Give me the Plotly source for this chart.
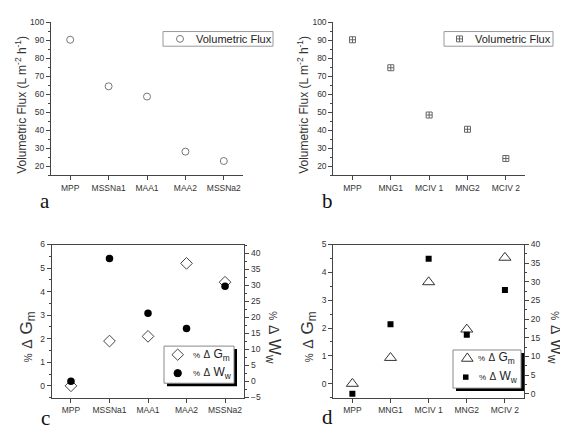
import plotly.graph_objects as go

# page body has an 8px margin, so the figure is drawn 8px in from the top-left
OFF = 8
W, H = 568 - OFF, 440 - OFF

# ---------------- data ----------------
cats_a = ["MPP", "MSSNa1", "MAA1", "MAA2", "MSSNa2"]
flux_a = [90.2, 64.4, 58.7, 28.2, 23.0]

cats_b = ["MPP", "MNG1", "MCIV 1", "MNG2", "MCIV 2"]
flux_b = [90.2, 74.7, 48.5, 40.6, 24.4]

dG_c = [0.0, 1.9, 2.1, 5.2, 4.4]
dW_c = [0.0, 38.3, 21.2, 16.5, 29.7]

dG_d = [0.0, 0.93, 3.65, 1.95, 4.53]
dW_d = [0.0, 18.6, 36.2, 15.8, 27.8]

flux_ticks = [20, 30, 40, 50, 60, 70, 80, 90, 100]
dG_ticks_c = [0, 1, 2, 3, 4, 5, 6]
dW_ticks_c = [-5, 0, 5, 10, 15, 20, 25, 30, 35, 40]
dG_ticks_d = [0, 1, 2, 3, 4, 5]
dW_ticks_d = [0, 5, 10, 15, 20, 25, 30, 35, 40]

# ---------------- helpers (pixel of the screenshot -> paper fraction) ----------------
def fx(px):
    return (px - OFF) / W

def fy(py):
    return 1 - (py - OFF) / H

FONT = "Liberation Sans, Arial, sans-serif"
SERIF = "Liberation Serif, Times New Roman, serif"
AX = "#444444"
TXT = "#333333"
TICKF = dict(family=FONT, size=8.5, color=TXT)

fig = go.Figure()

# panel a
fig.add_trace(go.Scatter(x=cats_a, y=flux_a, mode="markers", name="Volumetric Flux",
                         marker=dict(symbol="circle-open", size=7, color="#777777", line=dict(width=1)),
                         xaxis="x", yaxis="y"))
# panel b
fig.add_trace(go.Scatter(x=cats_b, y=flux_b, mode="markers", name="Volumetric Flux",
                         marker=dict(symbol="square-cross-open", size=6, color="#666666", line=dict(width=1)),
                         xaxis="x2", yaxis="y2"))
# panel c
fig.add_trace(go.Scatter(x=cats_a, y=dG_c, mode="markers", name="% Δ Gm",
                         marker=dict(symbol="diamond-open", size=9, color="#444444", line=dict(width=1)),
                         xaxis="x3", yaxis="y3"))
fig.add_trace(go.Scatter(x=cats_a, y=dW_c, mode="markers", name="% Δ Ww",
                         marker=dict(symbol="circle", size=7.5, color="#000000"),
                         xaxis="x3", yaxis="y5"))
# panel d
fig.add_trace(go.Scatter(x=cats_b, y=dG_d, mode="markers", name="% Δ Gm",
                         marker=dict(symbol="triangle-up-open", size=10.5, color="#333333", line=dict(width=1)),
                         xaxis="x4", yaxis="y4"))
fig.add_trace(go.Scatter(x=cats_b, y=dW_d, mode="markers", name="% Δ Ww",
                         marker=dict(symbol="square", size=6, color="#000000"),
                         xaxis="x4", yaxis="y6"))

def xaxis(dom, anchor, mirror):
    return dict(domain=dom, anchor=anchor, range=[-0.5, 4.5], type="category",
                showline=True, linecolor=AX, linewidth=1, mirror=mirror,
                ticks="outside", ticklen=4, tickcolor=AX, tickfont=TICKF,
                showgrid=False, zeroline=False, fixedrange=True)

def xminor(dom, anchor, over, side, ticks, vals, ln):
    # decorative tick-only axis (minor ticks between categories / inner top ticks)
    return dict(domain=dom, anchor=anchor, overlaying=over, side=side, type="linear",
                range=[-0.5, 4.5], tickvals=vals, ticks=ticks, ticklen=ln, tickcolor=AX,
                showticklabels=False, showline=False, showgrid=False, zeroline=False,
                fixedrange=True)

def yaxis(dom, anchor, rng, tv, dminor):
    return dict(domain=dom, anchor=anchor, range=rng, tickvals=tv,
                showline=True, linecolor=AX, linewidth=1,
                ticks="outside", ticklen=4, tickcolor=AX, tickfont=TICKF,
                minor=dict(ticks="outside", ticklen=2, tickcolor=AX, dtick=dminor, tick0=0),
                showgrid=False, zeroline=False, fixedrange=True)

xa = [fx(51), fx(243)]
xb = [fx(333.3), fx(525)]
xc = [fx(51.7), fx(244.3)]
xd = [fx(333.3), fx(524)]
ytop = [fy(174.3), fy(17.3)]
ybot = [fy(401.7), fy(245)]

mids = [0.5, 1.5, 2.5, 3.5]
tops = [0, 0.5, 1, 1.5, 2, 2.5, 3, 3.5, 4]

ya = yaxis(ytop, "x", [15, 100], flux_ticks, 5)
yb = yaxis(ytop, "x2", [15, 100], flux_ticks, 5)
yc = yaxis(ybot, "x3", [-0.5, 6], dG_ticks_c, 0.5)
yd = yaxis(ybot, "x4", [-0.5, 5], dG_ticks_d, 0.5)
yc2 = yaxis(ybot, "x3", [-5.1, 42.7], dW_ticks_c, 2.5)
yc2.update(overlaying="y3", side="right")
yd2 = yaxis(ybot, "x4", [-1.05, 40], dW_ticks_d, 2.5)
yd2.update(overlaying="y4", side="right")

fig.update_layout(
    width=W, height=H, margin=dict(l=0, r=0, t=0, b=0),
    paper_bgcolor="white", plot_bgcolor="rgba(0,0,0,0)",
    font=dict(family=FONT, size=10, color=TXT),
    showlegend=False,
    xaxis=xaxis(xa, "y", False), yaxis=ya,
    xaxis2=xaxis(xb, "y2", False), yaxis2=yb,
    xaxis3=xaxis(xc, "y3", True), yaxis3=yc,
    xaxis4=xaxis(xd, "y4", True), yaxis4=yd,
    yaxis5=yc2, yaxis6=yd2,
    xaxis5=xminor(xa, "y", "x", "bottom", "outside", mids, 2),
    xaxis6=xminor(xb, "y2", "x2", "bottom", "outside", mids, 2),
    xaxis7=xminor(xc, "y3", "x3", "bottom", "outside", mids, 2),
    xaxis8=xminor(xd, "y4", "x4", "bottom", "outside", mids, 2),
    xaxis9=xminor(xc, "y3", "x3", "top", "inside", tops, 2),
    xaxis10=xminor(xd, "y4", "x4", "top", "inside", tops, 2),
)

# ---------------- legends drawn as boxes + keys + text ----------------
def rect(x0, y0, x1, y1, fill, line_color, lw):
    fig.add_shape(type="rect", xref="paper", yref="paper", layer="above",
                  x0=fx(x0), x1=fx(x1), y0=fy(y1), y1=fy(y0),
                  fillcolor=fill, line=dict(color=line_color, width=lw))

def path(pts, fill, line_color, lw=1):
    d = "M " + " L ".join(f"{fx(px):.5f},{fy(py):.5f}" for px, py in pts) + " Z"
    fig.add_shape(type="path", xref="paper", yref="paper", layer="above", path=d,
                  fillcolor=fill, line=dict(color=line_color, width=lw))

def circ(cx, cy, r, fill, line_color):
    fig.add_shape(type="circle", xref="paper", yref="paper", layer="above",
                  x0=fx(cx - r), x1=fx(cx + r), y0=fy(cy + r), y1=fy(cy - r),
                  fillcolor=fill, line=dict(color=line_color, width=1))

def seg(x0, y0, x1, y1, color):
    fig.add_shape(type="line", xref="paper", yref="paper", layer="above",
                  x0=fx(x0), x1=fx(x1), y0=fy(y0), y1=fy(y1), line=dict(color=color, width=1))

def label(x, y, text, size=11):
    fig.add_annotation(x=fx(x), y=fy(y), xref="paper", yref="paper", text=text,
                       xanchor="left", yanchor="middle", showarrow=False,
                       font=dict(family=FONT, size=size, color="#222222"))

# legend a
rect(163, 27, 273, 42, "white", "#999999", 1)
circ(180, 34.5, 3.5, "rgba(0,0,0,0)", "#777777")
label(194, 34.5, "Volumetric Flux")
# legend b
rect(444, 27, 553, 42, "white", "#999999", 1)
rect(456.5, 31.5, 462.5, 37.5, "rgba(0,0,0,0)", "#666666", 1)
seg(459.5, 31.5, 459.5, 37.5, "#666666")
seg(456.5, 34.5, 462.5, 34.5, "#666666")
label(473, 34.5, "Volumetric Flux")

gm_leg = "<span style='font-size:8px'>%</span> <span style='font-size:10px'>Δ</span> G<sub>m</sub>"
ww_leg = "<span style='font-size:8px'>%</span> <span style='font-size:10px'>Δ</span> W<sub>w</sub>"
# legend c
rect(167, 352, 237, 390, "black", "black", 0)
rect(164, 349, 234, 387, "white", "#888888", 1)
path([(177.7, 352.0), (183.5, 357.8), (177.7, 363.6), (171.9, 357.8)], "white", "#444444")
circ(177.7, 376.7, 3.7, "black", "black")
label(191, 358, gm_leg, 12)
label(191, 377, ww_leg, 12)
# legend d
rect(456, 356, 524, 395, "black", "black", 0)
rect(453, 353, 521, 392, "white", "#888888", 1)
path([(461.5, 364.5), (473.1, 364.5), (467.3, 356.0)], "white", "#333333")
rect(463, 378, 468.5, 383.5, "black", "black", 0)
label(476, 361, gm_leg, 12)
label(477, 380.5, ww_leg, 12)

# ---------------- axis titles ----------------
flux_title = "Volumetric Flux (L m<sup>-2</sup> h<sup>-1</sup>)"
for xp in (21, 303):
    fig.add_annotation(x=fx(xp), y=fy(102), xref="paper", yref="paper", text=flux_title,
                       xanchor="center", yanchor="middle",
                       textangle=-90, showarrow=False, font=dict(family=FONT, size=12, color=TXT))

gm = "<span style='font-size:10px'>%</span> <span style='font-size:14px'>Δ</span> G<sub>m</sub>"
ww = "<span style='font-size:10px'>%</span> <span style='font-size:14px'>Δ</span> W<sub>w</sub>"
for xp in (28, 309):
    fig.add_annotation(x=fx(xp), y=fy(340), xref="paper", yref="paper", text=gm,
                       xanchor="center", yanchor="middle",
                       textangle=-90, showarrow=False, font=dict(family=FONT, size=17, color=TXT))
for xp in (273, 555):
    fig.add_annotation(x=fx(xp), y=fy(340), xref="paper", yref="paper", text=ww,
                       xanchor="center", yanchor="middle",
                       textangle=90, showarrow=False, font=dict(family=FONT, size=17, color=TXT))

# ---------------- panel letters ----------------
for lab, xp, yp in [("a", 45, 200), ("b", 327, 200), ("c", 45, 423), ("d", 327, 422)]:
    fig.add_annotation(x=fx(xp), y=fy(yp), xref="paper", yref="paper", text=lab,
                       xanchor="center", yanchor="middle",
                       showarrow=False, font=dict(family=SERIF, size=21, color="#111111"))

fig.write_html("out.html")
